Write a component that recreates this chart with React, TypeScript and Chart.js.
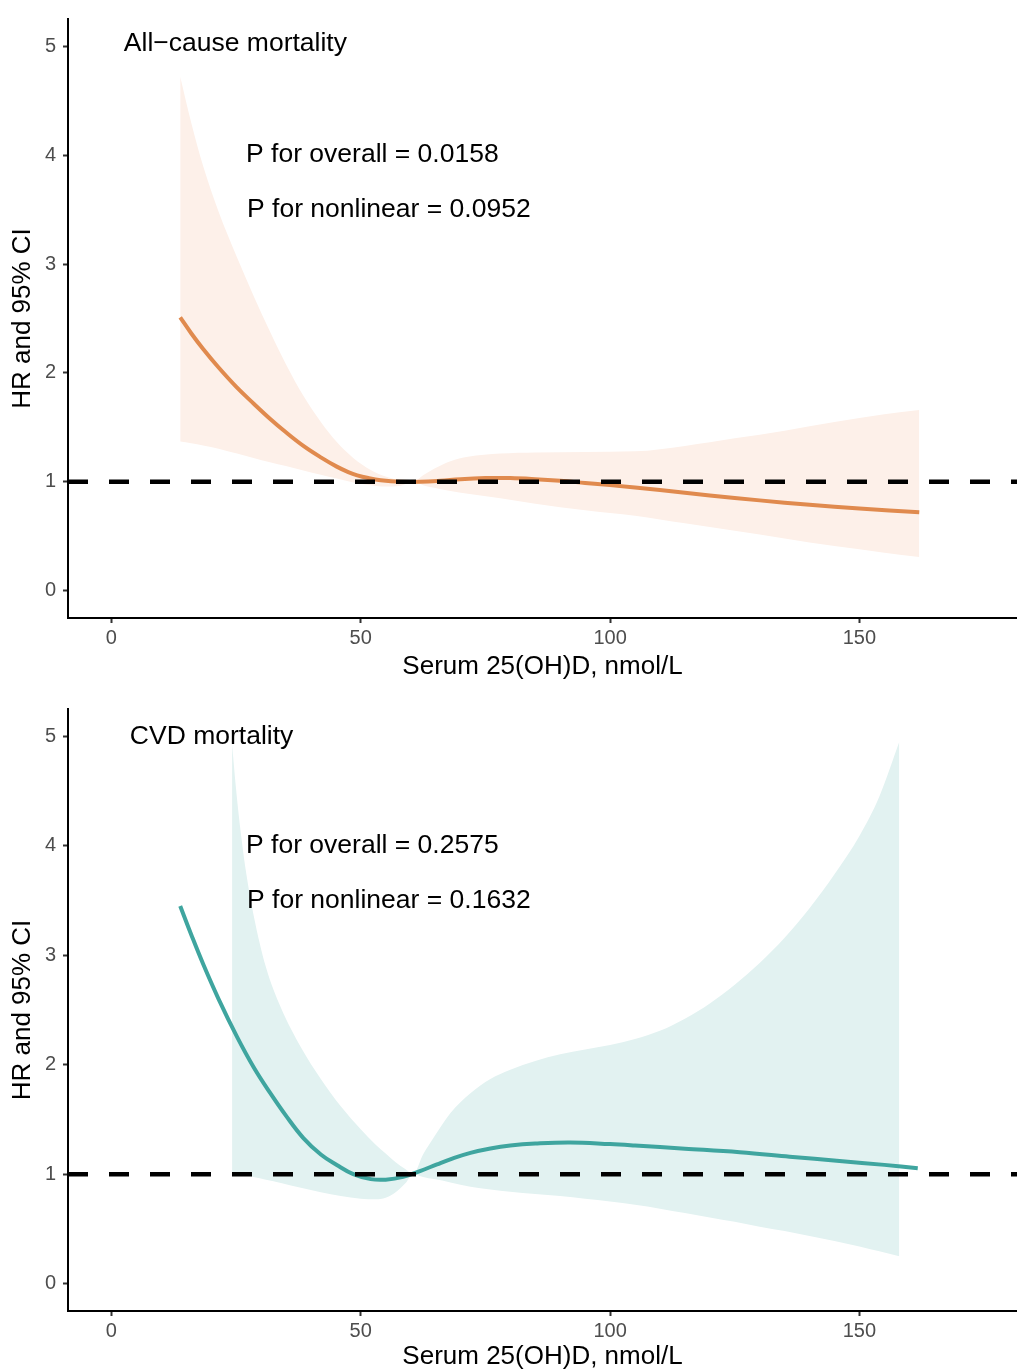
import React, { useEffect, useRef } from "react";
import { Chart, registerables } from "chart.js";

Chart.register(...registerables);

// ---------- axes ----------
const X_MIN = -8.7;
const X_MAX = 181.6;
const Y_MIN = -0.25;
const Y_MAX = 5.25;
const X_TICKS = [0, 50, 100, 150];
const Y_TICKS = [0, 1, 2, 3, 4, 5];
const REF_HR = 1;
const X_TITLE = "Serum 25(OH)D, nmol/L";
const Y_TITLE = "HR and 95% CI";

// ---------- All-cause mortality ----------
const ALL_CURVE_X = [13.8, 16, 18.4, 21.5, 25.1, 28.5, 31.8, 35, 38.5, 42, 45.2, 47.5, 49.3, 51.5, 54, 58, 62, 66, 70, 75, 80, 85, 90, 95, 100, 110, 120, 130, 140, 150, 162];
const ALL_CURVE_Y = [2.51, 2.365, 2.22, 2.05, 1.87, 1.72, 1.58, 1.455, 1.33, 1.225, 1.14, 1.09, 1.06, 1.035, 1.015, 1.0, 1.0, 1.01, 1.025, 1.035, 1.035, 1.025, 1.01, 0.99, 0.97, 0.925, 0.875, 0.83, 0.79, 0.755, 0.72];
const ALL_BAND_X = [13.8, 16, 18.4, 21.5, 25.2, 28.5, 31.8, 35, 38.5, 42, 45.2, 48.5, 52, 55, 58, 60.5, 62.5, 64.7, 68, 71.5, 78, 85, 95, 105, 115, 125, 135, 145, 155, 162];
const ALL_BAND_UPPER = [4.72, 4.3, 3.9, 3.48, 3.06, 2.71, 2.38, 2.08, 1.79, 1.55, 1.365, 1.22, 1.11, 1.05, 1.015, 1.0, 1.06, 1.12, 1.19, 1.23, 1.26, 1.27, 1.275, 1.28, 1.33, 1.4, 1.47, 1.55, 1.62, 1.66];
const ALL_BAND_LOWER = [1.37, 1.355, 1.335, 1.305, 1.26, 1.22, 1.18, 1.145, 1.105, 1.065, 1.03, 0.995, 0.97, 0.958, 0.965, 1.0, 0.97, 0.945, 0.915, 0.89, 0.85, 0.8, 0.74, 0.69, 0.62, 0.55, 0.48, 0.41, 0.35, 0.31];
const ALL_TITLE = "All\u2212cause mortality";
const ALL_P_OVERALL = "P for overall = 0.0158";
const ALL_P_NONLINEAR = "P for nonlinear = 0.0952";

// ---------- CVD mortality ----------
const CVD_CURVE_X = [13.8, 16, 18.4, 21.5, 25.2, 28.5, 31.8, 35, 38.5, 42, 45.2, 48.5, 52, 55, 58.5, 62, 65.3, 68.5, 72, 76, 80, 85, 92, 100, 105, 115, 126, 136, 146, 155, 161.7];
const CVD_CURVE_Y = [3.45, 3.19, 2.92, 2.6, 2.255, 1.98, 1.745, 1.535, 1.33, 1.18, 1.084, 1.0, 0.955, 0.95, 0.975, 1.03, 1.09, 1.145, 1.195, 1.235, 1.262, 1.28, 1.29, 1.275, 1.262, 1.233, 1.2, 1.16, 1.12, 1.085, 1.055];
const CVD_BAND_X = [24.2, 25, 26, 27, 28.5, 31, 34, 38, 42, 46, 50, 53, 55, 57, 59, 60.5, 62.5, 64.7, 68, 72, 76, 80, 85, 90, 95, 100, 105, 110, 115, 120, 125, 130, 135, 140, 145, 150, 154, 158];
const CVD_BAND_UPPER = [4.93, 4.52, 4.1, 3.76, 3.37, 2.89, 2.52, 2.16, 1.87, 1.62, 1.41, 1.27, 1.19, 1.11, 1.045, 1.0, 1.18, 1.34, 1.56, 1.74, 1.87, 1.955, 2.035, 2.095, 2.14, 2.18, 2.235, 2.31, 2.42, 2.56, 2.73, 2.93, 3.16, 3.43, 3.74, 4.09, 4.45, 4.95];
const CVD_BAND_LOWER = [1.02, 1.01, 1.0, 0.99, 0.975, 0.95, 0.92, 0.875, 0.835, 0.8, 0.775, 0.77, 0.785, 0.835, 0.92, 1.0, 0.975, 0.955, 0.925, 0.885, 0.86, 0.84, 0.82, 0.8, 0.775, 0.75, 0.72, 0.685, 0.645, 0.605, 0.565, 0.52, 0.48, 0.435, 0.39, 0.34, 0.295, 0.25];
const CVD_TITLE = "CVD mortality";
const CVD_P_OVERALL = "P for overall = 0.2575";
const CVD_P_NONLINEAR = "P for nonlinear = 0.1632";

const FONT = "'Liberation Sans', Arial, Helvetica, sans-serif";
Chart.defaults.font.family = FONT;

type Label = { text: string; x: number; y: number };

interface PanelProps {
  curveX: number[];
  curveY: number[];
  bandX: number[];
  upper: number[];
  lower: number[];
  lineColor: string;
  bandColor: string;
  labels: Label[];
  height: number;
  padTop: number;
  xAxisHeight: number;
  titlePadBottom: number;
}

function RcsPanel(props: PanelProps) {
  const ref = useRef<HTMLCanvasElement>(null);
  useEffect(() => {
    if (!ref.current) return;
    const toPts = (xs: number[], ys: number[]) => xs.map((x, i) => ({ x, y: ys[i] }));
    const labelPlugin = {
      id: "panelLabels",
      afterDatasetsDraw(chart: any) {
        const { ctx, scales } = chart;
        ctx.save();
        ctx.font = `26.5px ${FONT}`;
        ctx.fillStyle = "#000";
        ctx.textAlign = "left";
        ctx.textBaseline = "middle";
        props.labels.forEach((l) => {
          ctx.fillText(l.text, scales.x.getPixelForValue(l.x), scales.y.getPixelForValue(l.y));
        });
        ctx.restore();
      },
    };
    const chart = new Chart(ref.current, {
      type: "scatter",
      data: {
        datasets: [
          {
            label: "ref",
            data: [
              { x: X_MIN, y: REF_HR },
              { x: X_MAX, y: REF_HR },
            ],
            showLine: true,
            borderColor: "#000",
            borderWidth: 4.5,
            borderDash: [20, 21],
            pointRadius: 0,
            fill: false,
          },
          {
            label: "HR",
            data: toPts(props.curveX, props.curveY),
            showLine: true,
            borderColor: props.lineColor,
            borderWidth: 4,
            pointRadius: 0,
            tension: 0.4,
            fill: false,
          },
          {
            label: "upper",
            data: toPts(props.bandX, props.upper),
            showLine: true,
            borderWidth: 0,
            borderColor: "rgba(0,0,0,0)",
            backgroundColor: props.bandColor,
            pointRadius: 0,
            cubicInterpolationMode: "monotone",
            fill: "+1",
          },
          {
            label: "lower",
            data: toPts(props.bandX, props.lower),
            showLine: true,
            borderWidth: 0,
            borderColor: "rgba(0,0,0,0)",
            backgroundColor: "rgba(0,0,0,0)",
            pointRadius: 0,
            cubicInterpolationMode: "monotone",
            fill: false,
          },
        ],
      } as any,
      options: {
        animation: false,
        responsive: false,
        maintainAspectRatio: false,
        layout: { padding: { top: props.padTop, left: 0, right: 0, bottom: 0 } },
        plugins: { legend: { display: false }, tooltip: { enabled: false } },
        scales: {
          x: {
            type: "linear",
            min: X_MIN,
            max: X_MAX,
            afterBuildTicks: (s: any) => {
              s.ticks = X_TICKS.map((v) => ({ value: v }));
            },
            afterFit: (s: any) => {
              s.height = props.xAxisHeight;
            },
            grid: { display: true, drawOnChartArea: false, drawTicks: true, tickLength: 5, tickWidth: 2, tickColor: "#333" },
            border: { display: true, color: "#000", width: 2 },
            ticks: { font: { size: 20 }, color: "#4D4D4D", padding: 3, maxRotation: 0 },
            title: { display: true, text: X_TITLE, font: { size: 26 }, color: "#000", padding: { top: 0, bottom: props.titlePadBottom } },
          },
          y: {
            type: "linear",
            min: Y_MIN,
            max: Y_MAX,
            afterBuildTicks: (s: any) => {
              s.ticks = Y_TICKS.map((v) => ({ value: v }));
            },
            afterFit: (s: any) => {
              s.width = 68;
            },
            grid: { display: true, drawOnChartArea: false, drawTicks: true, tickLength: 5, tickWidth: 2, tickColor: "#333" },
            border: { display: true, color: "#000", width: 2 },
            ticks: { font: { size: 20 }, color: "#4D4D4D", padding: 7 },
            title: { display: true, text: Y_TITLE, font: { size: 26 }, color: "#000", padding: { top: 7, bottom: 0 } },
          },
        },
      } as any,
      plugins: [labelPlugin],
    });
    return () => chart.destroy();
  }, []);
  return <canvas ref={ref} width={1017} height={props.height} style={{ display: "block" }} />;
}

export default function App() {
  const allLabels: Label[] = [
    { text: ALL_TITLE, x: 2.5, y: 5.02 },
    { text: ALL_P_OVERALL, x: 27, y: 4 },
    { text: ALL_P_NONLINEAR, x: 27.2, y: 3.5 },
  ];
  const cvdLabels: Label[] = [
    { text: CVD_TITLE, x: 3.7, y: 5 },
    { text: CVD_P_OVERALL, x: 27, y: 4 },
    { text: CVD_P_NONLINEAR, x: 27.2, y: 3.5 },
  ];
  return (
    <div style={{ position: "absolute", left: 0, top: 0, width: 1017, height: 1372, background: "#fff", overflow: "hidden" }}>
      <div style={{ position: "absolute", left: 0, top: 0 }}>
        <RcsPanel
          curveX={ALL_CURVE_X}
          curveY={ALL_CURVE_Y}
          bandX={ALL_BAND_X}
          upper={ALL_BAND_UPPER}
          lower={ALL_BAND_LOWER}
          lineColor="#E08A4E"
          bandColor="#FDF0E9"
          labels={allLabels}
          height={690}
          padTop={15}
          xAxisHeight={72}
          titlePadBottom={8}
        />
      </div>
      <div style={{ position: "absolute", left: 0, top: 690 }}>
        <RcsPanel
          curveX={CVD_CURVE_X}
          curveY={CVD_CURVE_Y}
          bandX={CVD_BAND_X}
          upper={CVD_BAND_UPPER}
          lower={CVD_BAND_LOWER}
          lineColor="#3FA59F"
          bandColor="#E2F2F1"
          labels={cvdLabels}
          height={682}
          padTop={17}
          xAxisHeight={61}
          titlePadBottom={0}
        />
      </div>
    </div>
  );
}
